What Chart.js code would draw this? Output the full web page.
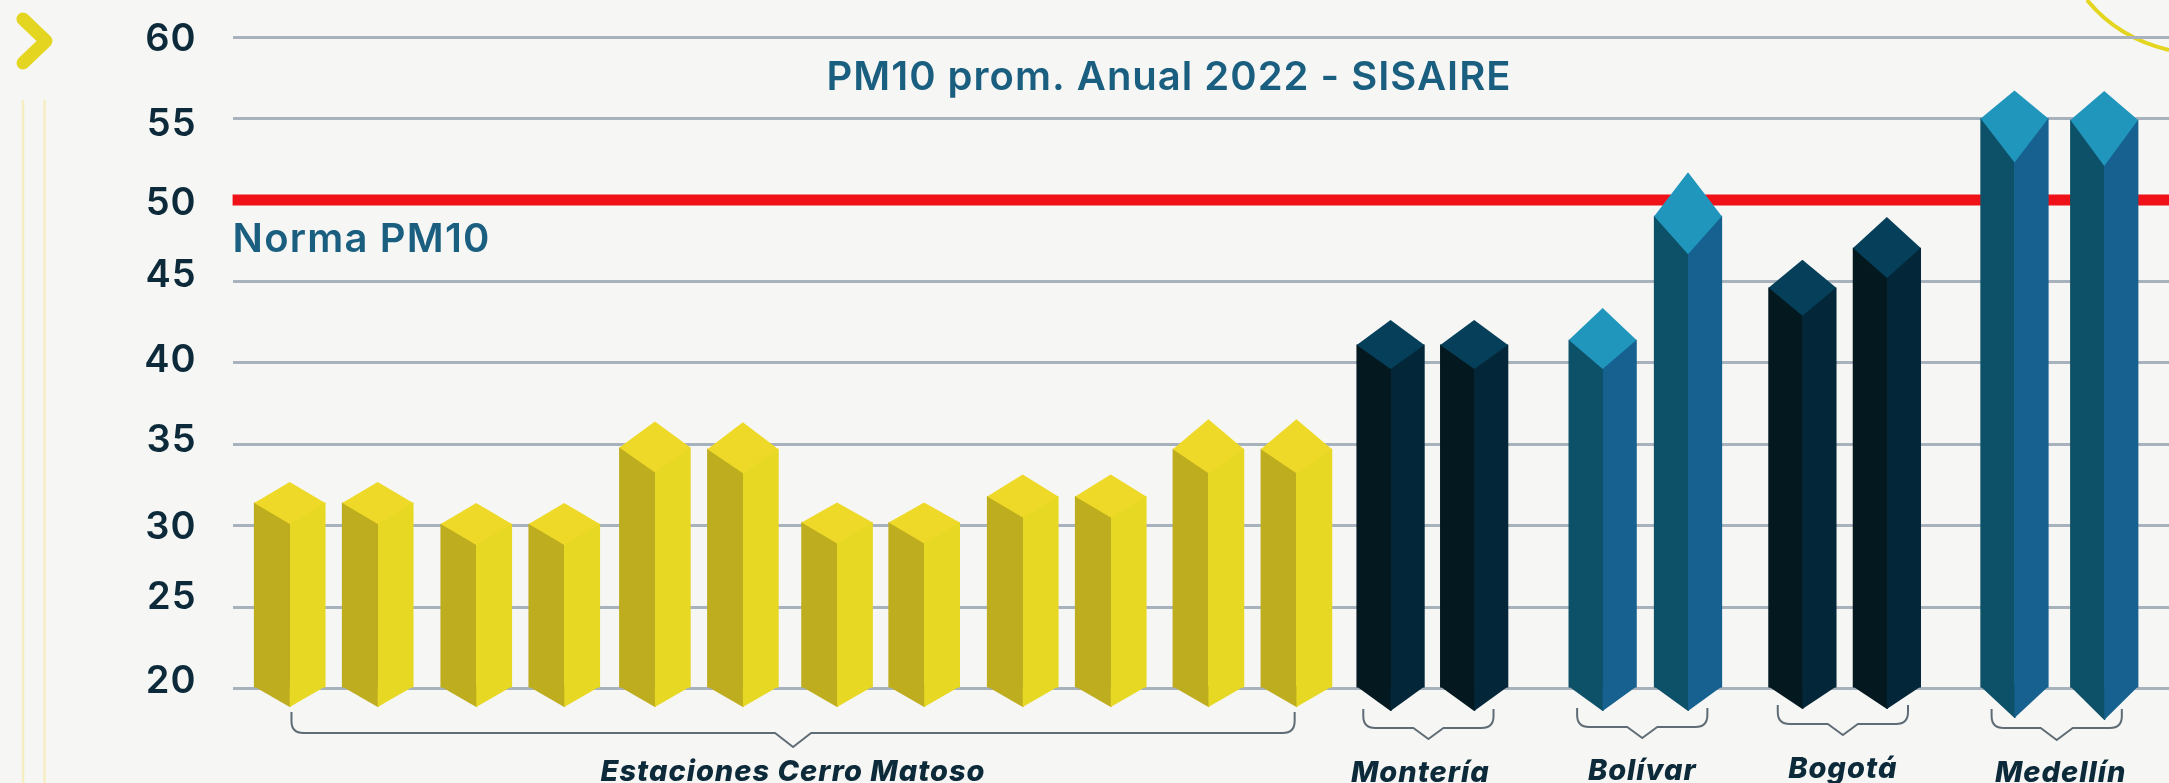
<!DOCTYPE html>
<html lang="es">
<head>
<meta charset="utf-8">
<title>PM10 prom. Anual 2022 - SISAIRE</title>
<script src="https://cdn.jsdelivr.net/npm/chart.js@4"></script>
<style>
html,body{margin:0;padding:0;background:#f6f6f4;width:2169px;height:783px;overflow:hidden}
canvas{display:block}
</style>
</head>
<body>
<canvas id="c" width="2169" height="783"></canvas>
<script>
// ---- data ----
const titleText = 'PM10 prom. Anual 2022 - SISAIRE';
const normaLabel = 'Norma PM10';
const normaValue = 50;
const yTicks = [20, 25, 30, 35, 40, 45, 50, 55, 60];
const groupNames = ['Estaciones Cerro Matoso', 'Montería', 'Bolívar', 'Bogotá', 'Medellín'];

const cerroMatoso = [31.4, 31.4, 30.1, 30.1, 34.8, 34.7, 30.2, 30.2, 31.8, 31.8, 34.7, 34.7];
const monteria = [41.1, 41.1];
const bolivar = [41.4, 49.0];
const bogota = [44.6, 47.05];
const medellin = [55.0, 54.9];

// ---- layout on the x axis, in bar slots ----
const cerroSlots = [0, 1, 2.12, 3.12, 4.15, 5.15, 6.22, 7.21, 8.33, 9.33, 10.44, 11.44];
const monteriaSlots = [12.51, 13.46];
const bolivarSlots = [14.92, 15.89];
const bogotaSlots = [17.19, 18.15];
const medellinSlots = [19.6, 20.62];
const groupSlots = [5.72, 12.94, 15.37, 17.65, 20.08];
const groupHalfSpan = [5.70, 0.74, 0.74, 0.74, 0.74];
const xMin = -0.649, xMax = 21.356;

// ---- prism look: rise of the top diamond, drop of its front corner, drop of the bottom tip (px) ----
const cerroCaps = [[21,21,20],[21,21,20],[21,21,20],[21,21,20],[26,25,20],[27,24,20],[20,21,20],[20,21,20],[22,21,20],[22,21,20],[30,24,20],[30,24,20]];
const monteriaCaps = [[25,24,24],[25,24,24]];
const bolivarCaps = [[32,29,24],[44,38,24]];
const bogotaCaps = [[28,28,22],[31,30,22]];
const medellinCaps = [[28,44,31],[29,46,33]];

const yellow = {l:'#bead1e', r:'#e7d823', t:'#eed928'};
const navy = {l:'#03191f', r:'#042639', t:'#053f5a'};
const blue = {l:'#0d5168', r:'#16618f', t:'#2196bd'};

const yLabelNudge = {20:-6.6, 25:-10, 30:1.7, 35:-3.4, 40:-2, 45:-5.4, 50:3.5, 55:6, 60:2.4};
const xLabelNudge = [[0,0],[-8,1],[0,-1],[0,-3],[4,1]];
const braceRows = [[712,733,747],[709,728,739],[708,727,738],[705,724,735],[709,728,740]];

function prism(label, values, slots, caps, pal, width){
  return {
    type:'bar', label, order:1, grouped:false, barThickness:width, clip:false, base:20,
    data: values.map((v,i)=>({x:slots[i], y:v})),
    caps, pal, prismWidth:width, borderWidth:0,
    backgroundColor(ctx){
      if(ctx.type!=='data') return pal.r;
      const sx = ctx.chart.scales.x;
      const c = sx ? sx.getPixelForValue(ctx.raw.x) : NaN;
      if(!Number.isFinite(c)) return pal.r;
      const g = ctx.chart.ctx.createLinearGradient(c-width/2,0,c+width/2,0);
      g.addColorStop(0,pal.l); g.addColorStop(.5,pal.l);
      g.addColorStop(.5,pal.r); g.addColorStop(1,pal.r);
      return g;
    }
  };
}
function poly(ctx, pts, fill){
  ctx.beginPath();
  pts.forEach((p,i)=> i? ctx.lineTo(p[0],p[1]) : ctx.moveTo(p[0],p[1]));
  ctx.closePath(); ctx.fillStyle=fill; ctx.fill();
}

const decorPlugin = {
  id:'decor',
  beforeDraw(chart){
    const ctx = chart.ctx;
    ctx.letterSpacing='1px';
    ctx.save();
    ctx.strokeStyle='#f6eec2'; ctx.lineWidth=2.5;
    [23,44.5].forEach(x=>{ctx.beginPath();ctx.moveTo(x,100);ctx.lineTo(x,783);ctx.stroke();});
    ctx.strokeStyle='#e4d520'; ctx.lineWidth=13; ctx.lineCap='round'; ctx.lineJoin='round';
    ctx.beginPath();ctx.moveTo(23,19);ctx.lineTo(46,41);ctx.lineTo(23,63);ctx.stroke();
    ctx.lineWidth=4; ctx.lineCap='butt';
    ctx.beginPath();ctx.moveTo(2087,0);ctx.quadraticCurveTo(2118,38,2169,50);ctx.stroke();
    ctx.restore();
    // nudge native tick labels to where the reference prints them
    const ys = chart.scales.y.getLabelItems();
    if(!ys.__n){ ys.__n=true; ys.forEach(it=>{ const k=+it.label; it.options.translation[1]+=(yLabelNudge[k]||0); }); }
    const xs = chart.scales.x.getLabelItems();
    if(!xs.__n){ xs.__n=true; xs.forEach((it,i)=>{ it.options.translation[0]+=xLabelNudge[i][0]; it.options.translation[1]+=xLabelNudge[i][1]; }); }
  },
  afterLayout(chart){
    chart.titleBlock.left += 84.5; chart.titleBlock.right += 84.5;
  },
  afterDatasetsDraw(chart){
    const ctx = chart.ctx;
    ctx.save();
    chart.data.datasets.forEach((ds,di)=>{
      if(ds.type!=='bar') return;
      const w = ds.prismWidth/2;
      chart.getDatasetMeta(di).data.forEach((el,i)=>{
        const [up,down,tip] = ds.caps[i];
        const x=el.x, y=el.y, b=el.base;
        poly(ctx,[[x-w,b-.5],[x+1,b-.5],[x+1,b+tip],[x,b+tip]],ds.pal.l);
        poly(ctx,[[x,b-.5],[x+w,b-.5],[x,b+tip]],ds.pal.r);
        poly(ctx,[[x-w,y],[x,y-up],[x+w,y],[x,y+down]],ds.pal.t);
      });
    });
    // group braces
    const sx = chart.scales.x;
    ctx.strokeStyle='#5f6c76'; ctx.lineWidth=2; ctx.lineJoin='round';
    groupSlots.forEach((s,i)=>{
      const c=sx.getPixelForValue(s);
      const l=sx.getPixelForValue(s-groupHalfSpan[i]), r=sx.getPixelForValue(s+groupHalfSpan[i]);
      const [t,m,n]=braceRows[i], q=12, h=n-m;
      ctx.beginPath();
      ctx.moveTo(l,t); ctx.lineTo(l,m-q); ctx.quadraticCurveTo(l,m,l+q,m);
      ctx.lineTo(c-h-4,m); ctx.lineTo(c,n); ctx.lineTo(c+h+4,m);
      ctx.lineTo(r-q,m); ctx.quadraticCurveTo(r,m,r,m-q); ctx.lineTo(r,t);
      ctx.stroke();
    });
    // norm label
    const y50 = chart.scales.y.getPixelForValue(normaValue);
    ctx.fillStyle='#1b5f80'; ctx.font='600 40px Inter'; ctx.textAlign='left'; ctx.textBaseline='middle';
    ctx.letterSpacing='1.2px';
    ctx.fillText(normaLabel, chart.chartArea.left, y50+40);
    ctx.restore();
  }
};

new Chart(document.getElementById('c'),{
  data:{datasets:[
    {type:'line', label:normaLabel, order:2, data:[{x:xMin,y:normaValue},{x:xMax,y:normaValue}],
     borderColor:'#ee1118', borderWidth:11, pointRadius:0, clip:false},
    prism('Estaciones Cerro Matoso', cerroMatoso, cerroSlots, cerroCaps, yellow, 71),
    prism('Montería', monteria, monteriaSlots, monteriaCaps, navy, 67.6),
    prism('Bolívar', bolivar, bolivarSlots, bolivarCaps, blue, 67.6),
    prism('Bogotá', bogota, bogotaSlots, bogotaCaps, navy, 67.6),
    prism('Medellín', medellin, medellinSlots, medellinCaps, blue, 67.6)
  ]},
  options:{
    responsive:false, animation:false, devicePixelRatio:1,
    layout:{padding:0},
    plugins:{
      legend:{display:false}, tooltip:{enabled:false},
      title:{display:true, text:titleText, color:'#1b5f80',
        font:{family:'Inter',size:40,weight:'600',lineHeight:1.2},
        padding:{top:54,bottom:-65}}
    },
    scales:{
      x:{type:'linear', min:xMin, max:xMax, offset:false,
        grid:{display:false}, border:{display:false},
        afterBuildTicks(s){ s.ticks = groupSlots.map(v=>({value:v})); },
        afterFit(s){ s.height = 94.4; s.paddingLeft=0; s.paddingRight=0; },
        ticks:{autoSkip:false, maxRotation:0, minRotation:0, padding:58, color:'#0c2a3a',
          font:{family:'Inter',size:29,weight:'800',style:'italic'},
          callback:(v,i)=>groupNames[i]}
      },
      y:{type:'linear', min:20, max:60,
        border:{display:false},
        grid:{color:'#a7b2bc', lineWidth:3, drawTicks:false},
        afterBuildTicks(s){ s.ticks = yTicks.map(v=>({value:v})); },
        afterFit(s){ s.width = 232.6; s.paddingTop=0; s.paddingBottom=0; },
        ticks:{padding:36, color:'#0c2a3a', font:{family:'Inter',size:38,weight:'600'}}
      }
    }
  },
  plugins:[decorPlugin]
});
</script>
</body>
</html>
